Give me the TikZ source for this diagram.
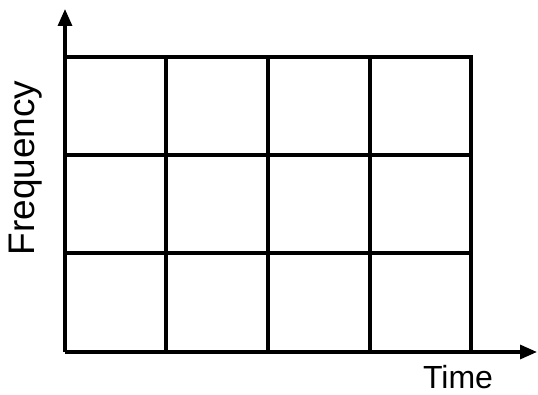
\documentclass[tikz,border=0pt]{standalone}
\usepackage{fontspec}
\setmainfont{Liberation Sans}
\usetikzlibrary{arrows.meta}
\begin{document}
\begin{tikzpicture}[x=1pt,y=-1pt,
  gridline/.style={line width=3.2pt,line cap=rect},
  axis/.style={line width=3.2pt,-{Triangle[width=14pt,length=17pt]}},
  lbl/.style={inner sep=0pt}]
\useasboundingbox (0,0) rectangle (538,395);
\coordinate (o) at (65,352);
\coordinate (ytip) at (65,9);
\coordinate (xtip) at (537,352);
\foreach \x in {166,268,370,471} \draw[gridline] (\x,57) -- (\x,352);
\foreach \y in {57,155,253} \draw[gridline] (65,\y) -- (471,\y);
\draw[axis] (o) -- (ytip);
\draw[axis] (o) -- (xtip);
\node[lbl,rotate=90,font=\fontsize{37}{42}\selectfont] (f) at (26,168) {Frequency};
\node[lbl,font=\fontsize{32}{37}\selectfont] (t) at (458,377) {Time};
\end{tikzpicture}
\end{document}
